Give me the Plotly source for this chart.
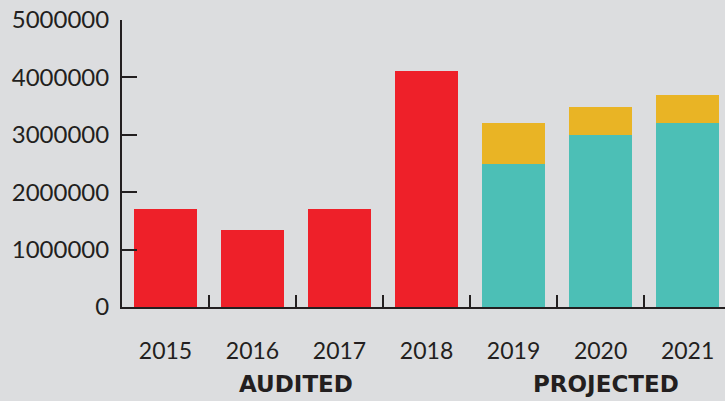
import plotly.graph_objects as go

years = ["2015", "2016", "2017", "2018", "2019", "2020", "2021"]
audited = [1710000, 1350000, 1700000, 4110000, None, None, None]
projected_base = [None, None, None, None, 2500000, 3000000, 3210000]
projected_extra = [None, None, None, None, 710000, 490000, 490000]
y_ticks = [0, 1000000, 2000000, 3000000, 4000000, 5000000]
group_labels = ["AUDITED", "PROJECTED"]

RED = "#ee2029"
TEAL = "#4cbfb6"
GOLD = "#e9b425"
BG = "#dcdddf"
INK = "#231f20"
FONT = "Lato"
BOLD_FONT = "DejaVu Sans"

fig = go.Figure()
fig.add_trace(go.Bar(x=years, y=audited, marker=dict(color=RED, line=dict(width=0)), width=0.724))
fig.add_trace(go.Bar(x=years, y=projected_base, marker=dict(color=TEAL, line=dict(width=0)), width=0.724))
fig.add_trace(go.Bar(x=years, y=projected_extra, marker=dict(color=GOLD, line=dict(width=0)), width=0.724))

fig.update_layout(
    barmode="stack",
    width=725, height=401,
    margin=dict(l=122, r=0, t=20, b=93.5),
    paper_bgcolor=BG, plot_bgcolor=BG,
    showlegend=False,
    font=dict(family=FONT, color=INK, size=23),
)
fig.update_xaxes(
    type="category", range=[-0.5, 6.43],
    showline=True, linecolor=INK, linewidth=2,
    ticks="inside", tickson="boundaries", ticklen=12, tickwidth=2, tickcolor=INK,
    showgrid=False, zeroline=False,
    ticklabelstandoff=22,
    tickfont=dict(size=23, family=FONT, color=INK),
)
fig.update_yaxes(
    range=[0, 5000000], tickvals=y_ticks, ticktext=[str(v) for v in y_ticks],
    showline=True, linecolor=INK, linewidth=2,
    ticks="inside", ticklen=15, tickwidth=2, tickcolor=INK,
    showgrid=False, zeroline=False,
    ticklabelstandoff=6,
    tickfont=dict(size=24, family=FONT, color=INK),
)
fig.add_annotation(x=1.5, y=-0.2696, xref="x", yref="paper", yanchor="middle",
                   text="<b>" + group_labels[0] + "</b>",
                   showarrow=False, font=dict(size=23, family=BOLD_FONT, color=INK))
fig.add_annotation(x=5.06, y=-0.2696, xref="x", yref="paper", yanchor="middle",
                   text="<b>" + group_labels[1] + "</b>",
                   showarrow=False, font=dict(size=23, family=BOLD_FONT, color=INK))

fig.write_html("out.html")
